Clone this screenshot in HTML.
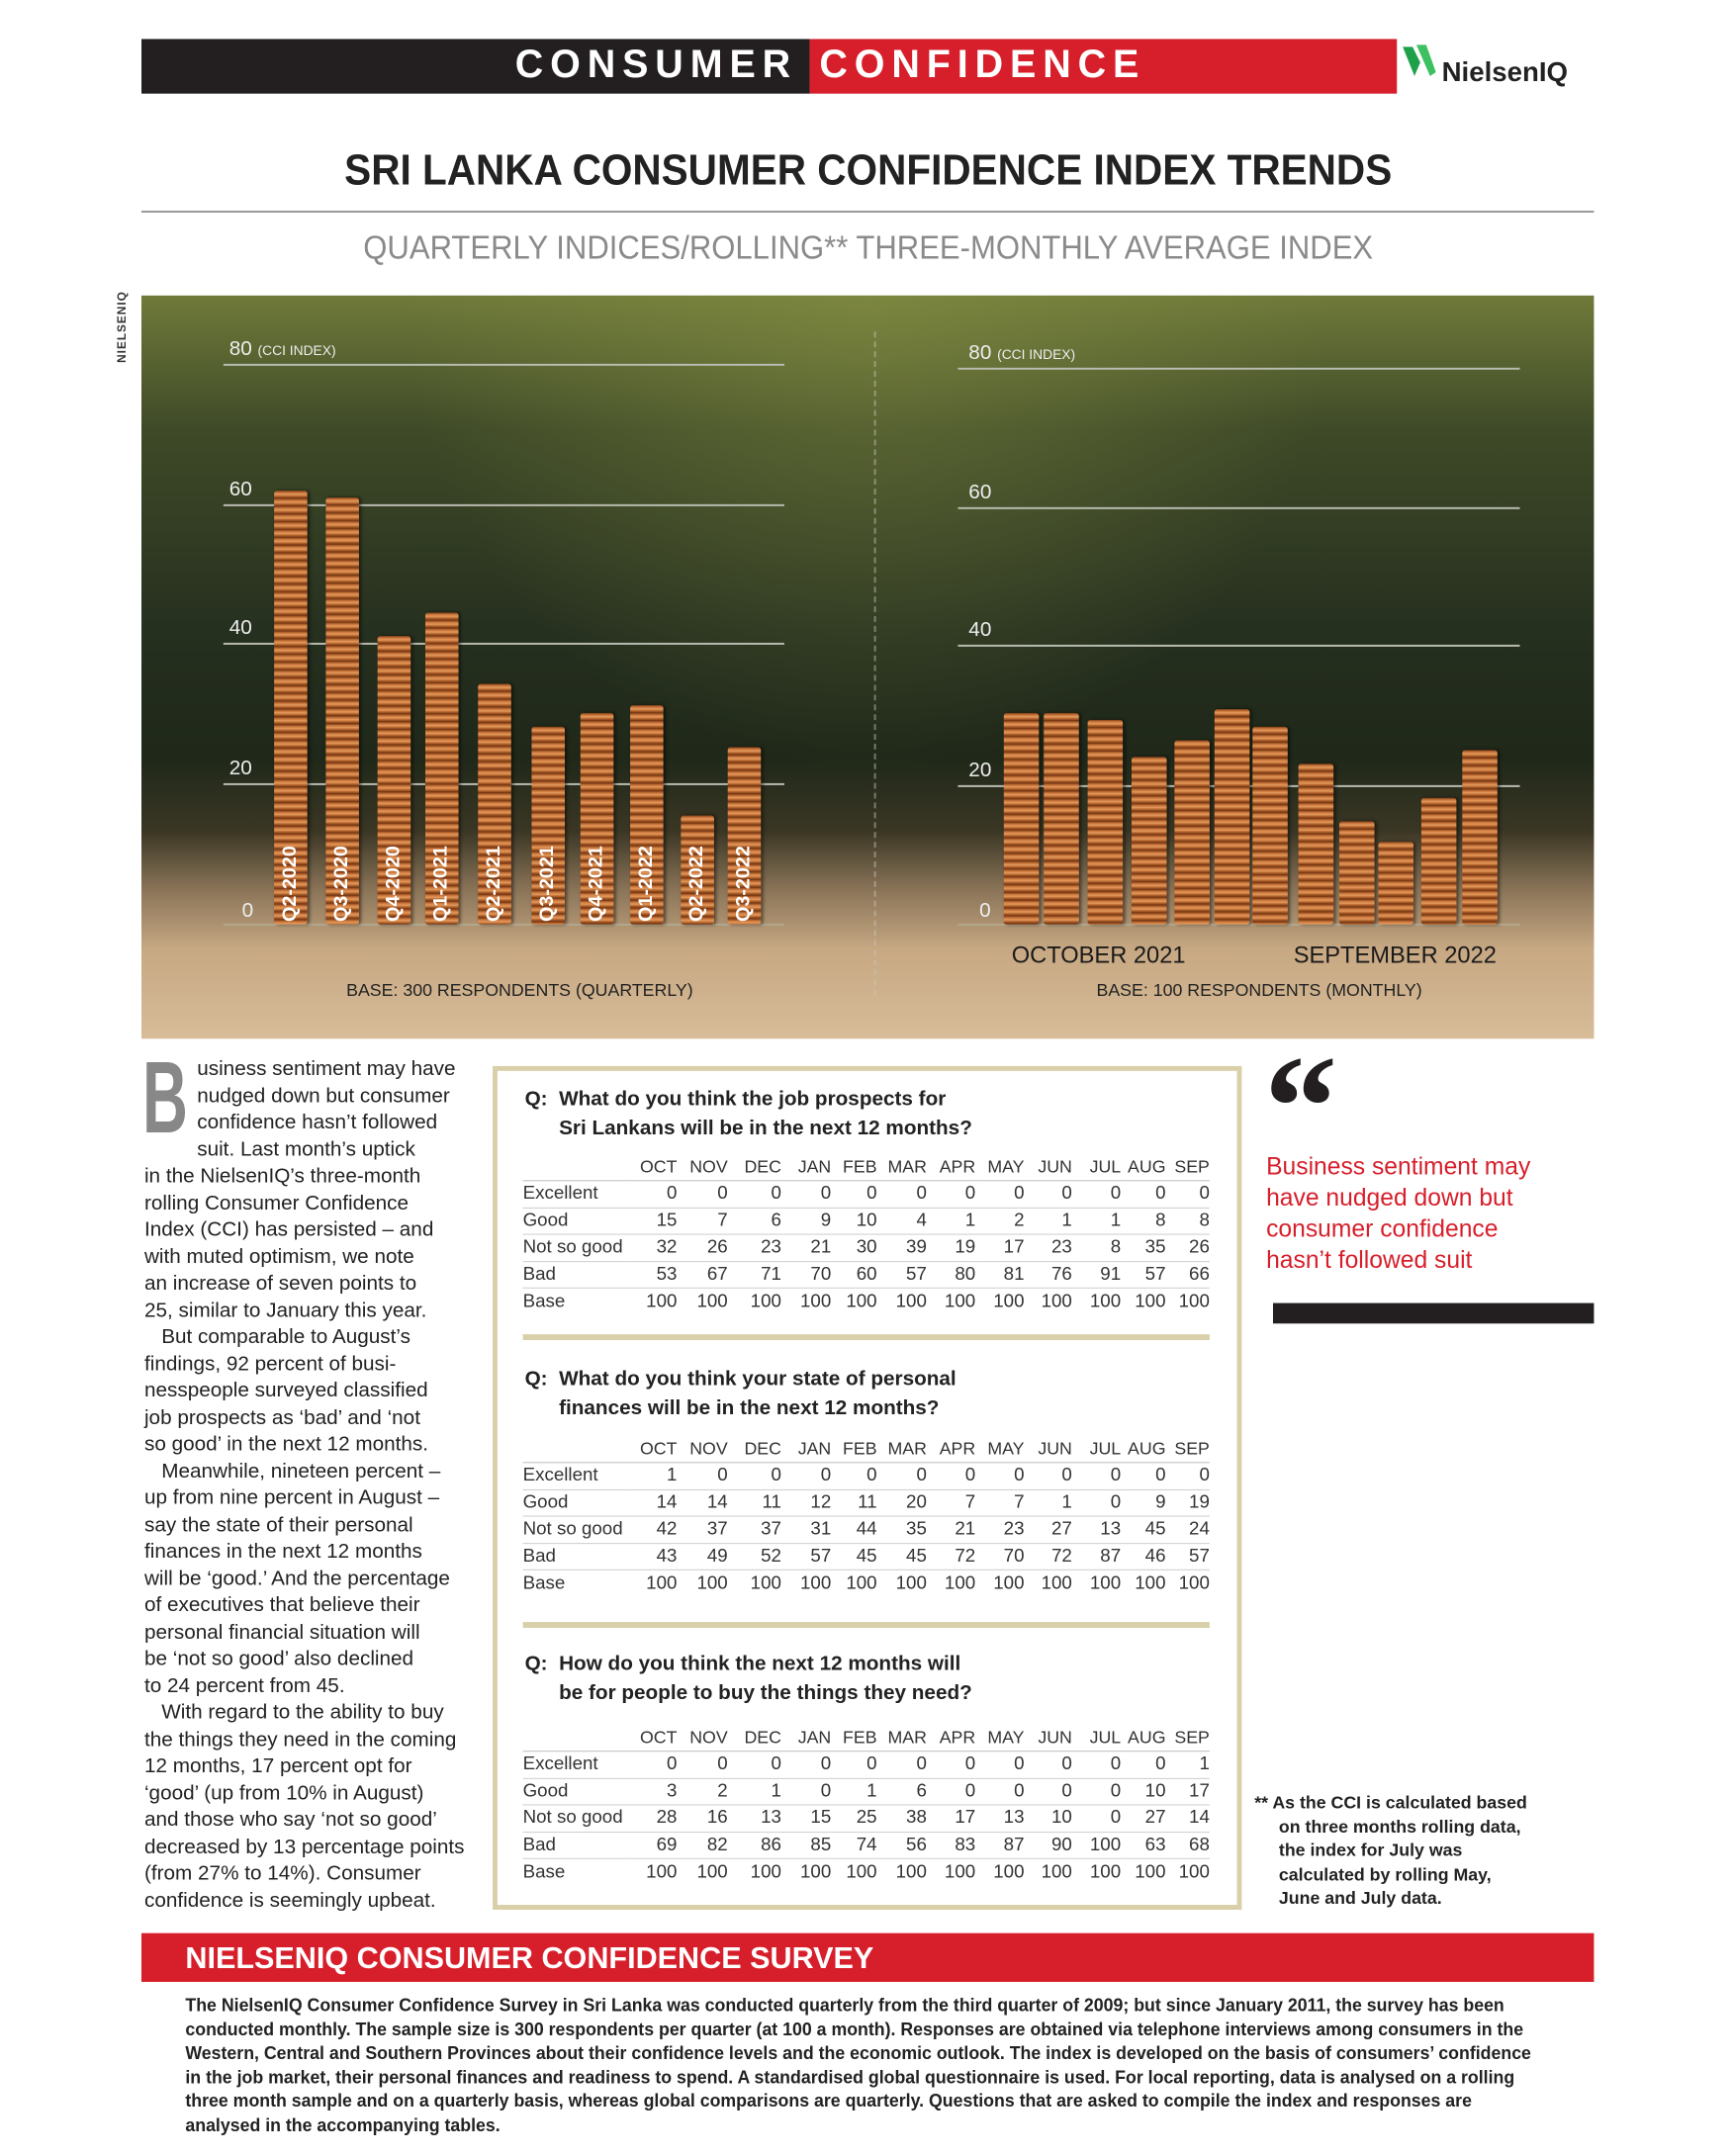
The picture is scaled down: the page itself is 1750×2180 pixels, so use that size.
<!DOCTYPE html>
<html><head><meta charset="utf-8"><style>
*{margin:0;padding:0;box-sizing:border-box}
body{width:1750px;height:2177px;background:#fff;position:relative;overflow:hidden;font-family:"Liberation Sans Narrow","Liberation Sans",sans-serif;color:#222}
#w{position:absolute;left:0;top:0;width:1750px;height:2210px;transform:scale(0.9862);transform-origin:0 0}
.a{position:absolute}
.nw{white-space:nowrap}
.bar{position:absolute;background:repeating-linear-gradient(180deg,#7a3a14 0,#c8743a 2px,#e49a5c 4px,#b0602a 6px,#6e3210 8px);border-radius:3px;box-shadow:2px 0 3px rgba(0,0,0,.5)}
.gl{position:absolute;height:2px;background:#b9bcb0}
.yl{position:absolute;color:#eee;font-size:21px}
.ql{position:absolute;color:#fff;font-family:"Liberation Sans",sans-serif;font-weight:bold;font-size:20px;transform:rotate(-90deg);transform-origin:left top;white-space:nowrap}
table{position:absolute;left:536px;border-collapse:collapse;table-layout:fixed;font-size:19px;color:#333}
td{height:27.5px;text-align:right;border-bottom:1px solid #ccc;padding:0}
td:first-child{text-align:left}
tr.h td{border-bottom:1px solid #bbb;font-size:18px}
tr:last-child td{border-bottom:none}
.q{position:absolute;left:538px;font-size:21px;font-weight:bold;color:#222;line-height:30px}
.sep{position:absolute;left:536px;width:704px;height:6px;background:#d9d0aa}
.lt{position:absolute;left:148px;top:1082px;font-size:21px;line-height:27.5px;color:#222}
</style></head><body><div id="w">
<div class="a" style="left:145px;top:40px;width:685px;height:56px;background:#231f20"></div>
<div class="a" style="left:830px;top:40px;width:602px;height:56px;background:#d71f2b"></div>
<div class="a nw" style="left:528px;top:44px;font:bold 40px 'Liberation Sans',sans-serif;letter-spacing:7px;color:#fff">CONSUMER</div>
<div class="a nw" style="left:840px;top:44px;font:bold 40px 'Liberation Sans',sans-serif;letter-spacing:7px;color:#fff">CONFIDENCE</div>
<svg class="a" style="left:1436px;top:44px" width="40" height="40"><path d="M2 4 L12 4 L20 20 L14 34 Z" fill="#1fa04a"/><path d="M16 2 L26 2 L36 30 L30 34 Z" fill="#3cc060"/></svg>
<div class="a nw" style="left:1478px;top:58px;font:bold 28px 'Liberation Sans',sans-serif;color:#222">NielsenIQ</div>

<div class="a nw" style="left:0;width:1780px;text-align:center;top:150px;font-size:44px;font-weight:bold;color:#222;transform:scaleX(0.934)">SRI LANKA CONSUMER CONFIDENCE INDEX TRENDS</div>
<div class="a" style="left:145px;top:216px;width:1489px;height:2px;background:#999"></div>
<div class="a nw" style="left:0;width:1780px;text-align:center;top:235px;font-size:34px;color:#8a8a8a;transform:scaleX(0.926)">QUARTERLY INDICES/ROLLING** THREE-MONTHLY AVERAGE INDEX</div>
<div class="a nw" style="left:118px;top:372px;font:bold 12px 'Liberation Sans',sans-serif;color:#333;transform:rotate(-90deg);transform-origin:left top;letter-spacing:1px">NIELSENIQ</div>

<div class="a" style="left:145px;top:303px;width:1489px;height:762px;background:linear-gradient(180deg,#6f7a3a 0%,#3f4a28 18%,#26301f 45%,#1f2819 62%,#3a3624 72%,#8a7458 80%,#c7a883 88%,#d7bc98 100%)"></div>
<div class="a" style="left:145px;top:303px;width:1489px;height:762px;background:radial-gradient(ellipse at 50% 0%,rgba(140,150,70,.45),rgba(0,0,0,0) 45%)"></div>

<div class="gl" style="left:229px;top:373px;width:575px"></div>
<div class="gl" style="left:229px;top:517px;width:575px"></div>
<div class="gl" style="left:229px;top:659px;width:575px"></div>
<div class="gl" style="left:229px;top:803px;width:575px"></div>
<div class="gl" style="left:229px;top:947px;width:575px;opacity:.5"></div>
<div class="yl" style="left:235px;top:346px">80 <span style="font-size:14px">(CCI INDEX)</span></div>
<div class="yl" style="left:235px;top:490px">60</div>
<div class="yl" style="left:235px;top:632px">40</div>
<div class="yl" style="left:235px;top:776px">20</div>
<div class="yl" style="left:248px;top:922px">0</div>

<div class="gl" style="left:982px;top:377px;width:576px"></div>
<div class="gl" style="left:982px;top:520px;width:576px"></div>
<div class="gl" style="left:982px;top:661px;width:576px"></div>
<div class="gl" style="left:982px;top:805px;width:576px"></div>
<div class="gl" style="left:982px;top:947px;width:576px;opacity:.5"></div>
<div class="yl" style="left:993px;top:350px">80 <span style="font-size:14px">(CCI INDEX)</span></div>
<div class="yl" style="left:993px;top:493px">60</div>
<div class="yl" style="left:993px;top:634px">40</div>
<div class="yl" style="left:993px;top:778px">20</div>
<div class="yl" style="left:1004px;top:922px">0</div>
<div class="a" style="left:896px;top:340px;height:680px;border-left:2px dashed rgba(200,200,190,.5)"></div>

<div class="bar" style="left:281px;top:503px;width:34px;height:445px"></div>
<div class="bar" style="left:334px;top:510px;width:34px;height:438px"></div>
<div class="bar" style="left:387px;top:652px;width:34px;height:296px"></div>
<div class="bar" style="left:436px;top:628px;width:34px;height:320px"></div>
<div class="bar" style="left:490px;top:701px;width:34px;height:247px"></div>
<div class="bar" style="left:545px;top:745px;width:34px;height:203px"></div>
<div class="bar" style="left:595px;top:731px;width:34px;height:217px"></div>
<div class="bar" style="left:646px;top:723px;width:34px;height:225px"></div>
<div class="bar" style="left:698px;top:836px;width:34px;height:112px"></div>
<div class="bar" style="left:746px;top:766px;width:34px;height:182px"></div>
<div class="ql" style="left:286px;top:945px">Q2-2020</div>
<div class="ql" style="left:339px;top:945px">Q3-2020</div>
<div class="ql" style="left:392px;top:945px">Q4-2020</div>
<div class="ql" style="left:441px;top:945px">Q1-2021</div>
<div class="ql" style="left:495px;top:945px">Q2-2021</div>
<div class="ql" style="left:550px;top:945px">Q3-2021</div>
<div class="ql" style="left:600px;top:945px">Q4-2021</div>
<div class="ql" style="left:651px;top:945px">Q1-2022</div>
<div class="ql" style="left:703px;top:945px">Q2-2022</div>
<div class="ql" style="left:751px;top:945px">Q3-2022</div>

<div class="bar" style="left:1029px;top:731px;width:36px;height:217px"></div>
<div class="bar" style="left:1070px;top:731px;width:36px;height:217px"></div>
<div class="bar" style="left:1115px;top:738px;width:36px;height:210px"></div>
<div class="bar" style="left:1160px;top:776px;width:36px;height:172px"></div>
<div class="bar" style="left:1204px;top:759px;width:36px;height:189px"></div>
<div class="bar" style="left:1245px;top:727px;width:36px;height:221px"></div>
<div class="bar" style="left:1284px;top:745px;width:36px;height:203px"></div>
<div class="bar" style="left:1331px;top:783px;width:36px;height:165px"></div>
<div class="bar" style="left:1373px;top:842px;width:36px;height:106px"></div>
<div class="bar" style="left:1413px;top:863px;width:36px;height:85px"></div>
<div class="bar" style="left:1457px;top:818px;width:36px;height:130px"></div>
<div class="bar" style="left:1499px;top:769px;width:36px;height:179px"></div>

<div class="a nw" style="left:1037px;top:966px;font:24px 'Liberation Sans',sans-serif;color:#1a1a1a">OCTOBER 2021</div>
<div class="a nw" style="left:1326px;top:966px;font:24px 'Liberation Sans',sans-serif;color:#1a1a1a">SEPTEMBER 2022</div>
<div class="a nw" style="left:355px;top:1005px;font-size:18px;color:#222">BASE: 300 RESPONDENTS (QUARTERLY)</div>
<div class="a nw" style="left:1124px;top:1005px;font-size:18px;color:#222">BASE: 100 RESPONDENTS (MONTHLY)</div>

<div class="a" style="left:146px;top:1074px;font:bold 104px 'Liberation Sans',sans-serif;color:#888;line-height:104px;transform:scaleX(0.62);transform-origin:left top">B</div>
<div class="lt nw">
<div style="padding-left:54px">usiness sentiment may have</div>
<div style="padding-left:54px">nudged down but consumer</div>
<div style="padding-left:54px">confidence hasn’t followed</div>
<div style="padding-left:54px">suit. Last month’s uptick</div>
<div>in the NielsenIQ’s three-month</div>
<div>rolling Consumer Confidence</div>
<div>Index (CCI) has persisted – and</div>
<div>with muted optimism, we note</div>
<div>an increase of seven points to</div>
<div>25, similar to January this year.</div>
<div>&nbsp;&nbsp;&nbsp;But comparable to August’s</div>
<div>findings, 92 percent of busi-</div>
<div>nesspeople surveyed classified</div>
<div>job prospects as ‘bad’ and ‘not</div>
<div>so good’ in the next 12 months.</div>
<div>&nbsp;&nbsp;&nbsp;Meanwhile, nineteen percent –</div>
<div>up from nine percent in August –</div>
<div>say the state of their personal</div>
<div>finances in the next 12 months</div>
<div>will be ‘good.’ And the percentage</div>
<div>of executives that believe their</div>
<div>personal financial situation will</div>
<div>be ‘not so good’ also declined</div>
<div>to 24 percent from 45.</div>
<div>&nbsp;&nbsp;&nbsp;With regard to the ability to buy</div>
<div>the things they need in the coming</div>
<div>12 months, 17 percent opt for</div>
<div>‘good’ (up from 10% in August)</div>
<div>and those who say ‘not so good’</div>
<div>decreased by 13 percentage points</div>
<div>(from 27% to 14%). Consumer</div>
<div>confidence is seemingly upbeat.</div>
</div>

<div class="a" style="left:505px;top:1093px;width:768px;height:865px;border:5px solid #d9d0aa"></div>
<div class="q nw" style="top:1112px">Q:&nbsp; What do you think the job prospects for<br>&nbsp;&nbsp;&nbsp;&nbsp;&nbsp;&nbsp;Sri Lankans will be in the next 12 months?</div>
<table style="top:1183px;width:704px"><colgroup><col style="width:110px"><col style="width:48px"><col style="width:52px"><col style="width:55px"><col style="width:51px"><col style="width:47px"><col style="width:51px"><col style="width:50px"><col style="width:50px"><col style="width:49px"><col style="width:50px"><col style="width:46px"><col style="width:45px"></colgroup>
<tr class="h"><td></td><td>OCT</td><td>NOV</td><td>DEC</td><td>JAN</td><td>FEB</td><td>MAR</td><td>APR</td><td>MAY</td><td>JUN</td><td>JUL</td><td>AUG</td><td>SEP</td></tr>
<tr><td>Excellent</td><td>0</td><td>0</td><td>0</td><td>0</td><td>0</td><td>0</td><td>0</td><td>0</td><td>0</td><td>0</td><td>0</td><td>0</td></tr>
<tr><td>Good</td><td>15</td><td>7</td><td>6</td><td>9</td><td>10</td><td>4</td><td>1</td><td>2</td><td>1</td><td>1</td><td>8</td><td>8</td></tr>
<tr><td>Not so good</td><td>32</td><td>26</td><td>23</td><td>21</td><td>30</td><td>39</td><td>19</td><td>17</td><td>23</td><td>8</td><td>35</td><td>26</td></tr>
<tr><td>Bad</td><td>53</td><td>67</td><td>71</td><td>70</td><td>60</td><td>57</td><td>80</td><td>81</td><td>76</td><td>91</td><td>57</td><td>66</td></tr>
<tr><td>Base</td><td>100</td><td>100</td><td>100</td><td>100</td><td>100</td><td>100</td><td>100</td><td>100</td><td>100</td><td>100</td><td>100</td><td>100</td></tr>
</table>
<div class="sep" style="top:1368px"></div>

<div class="q nw" style="top:1399px">Q:&nbsp; What do you think your state of personal<br>&nbsp;&nbsp;&nbsp;&nbsp;&nbsp;&nbsp;finances will be in the next 12 months?</div>
<table style="top:1472px;width:704px"><colgroup><col style="width:110px"><col style="width:48px"><col style="width:52px"><col style="width:55px"><col style="width:51px"><col style="width:47px"><col style="width:51px"><col style="width:50px"><col style="width:50px"><col style="width:49px"><col style="width:50px"><col style="width:46px"><col style="width:45px"></colgroup>
<tr class="h"><td></td><td>OCT</td><td>NOV</td><td>DEC</td><td>JAN</td><td>FEB</td><td>MAR</td><td>APR</td><td>MAY</td><td>JUN</td><td>JUL</td><td>AUG</td><td>SEP</td></tr>
<tr><td>Excellent</td><td>1</td><td>0</td><td>0</td><td>0</td><td>0</td><td>0</td><td>0</td><td>0</td><td>0</td><td>0</td><td>0</td><td>0</td></tr>
<tr><td>Good</td><td>14</td><td>14</td><td>11</td><td>12</td><td>11</td><td>20</td><td>7</td><td>7</td><td>1</td><td>0</td><td>9</td><td>19</td></tr>
<tr><td>Not so good</td><td>42</td><td>37</td><td>37</td><td>31</td><td>44</td><td>35</td><td>21</td><td>23</td><td>27</td><td>13</td><td>45</td><td>24</td></tr>
<tr><td>Bad</td><td>43</td><td>49</td><td>52</td><td>57</td><td>45</td><td>45</td><td>72</td><td>70</td><td>72</td><td>87</td><td>46</td><td>57</td></tr>
<tr><td>Base</td><td>100</td><td>100</td><td>100</td><td>100</td><td>100</td><td>100</td><td>100</td><td>100</td><td>100</td><td>100</td><td>100</td><td>100</td></tr>
</table>
<div class="sep" style="top:1663px"></div>

<div class="q nw" style="top:1691px">Q:&nbsp; How do you think the next 12 months will<br>&nbsp;&nbsp;&nbsp;&nbsp;&nbsp;&nbsp;be for people to buy the things they need?</div>
<table style="top:1768px;width:704px"><colgroup><col style="width:110px"><col style="width:48px"><col style="width:52px"><col style="width:55px"><col style="width:51px"><col style="width:47px"><col style="width:51px"><col style="width:50px"><col style="width:50px"><col style="width:49px"><col style="width:50px"><col style="width:46px"><col style="width:45px"></colgroup>
<tr class="h"><td></td><td>OCT</td><td>NOV</td><td>DEC</td><td>JAN</td><td>FEB</td><td>MAR</td><td>APR</td><td>MAY</td><td>JUN</td><td>JUL</td><td>AUG</td><td>SEP</td></tr>
<tr><td>Excellent</td><td>0</td><td>0</td><td>0</td><td>0</td><td>0</td><td>0</td><td>0</td><td>0</td><td>0</td><td>0</td><td>0</td><td>1</td></tr>
<tr><td>Good</td><td>3</td><td>2</td><td>1</td><td>0</td><td>1</td><td>6</td><td>0</td><td>0</td><td>0</td><td>0</td><td>10</td><td>17</td></tr>
<tr><td>Not so good</td><td>28</td><td>16</td><td>13</td><td>15</td><td>25</td><td>38</td><td>17</td><td>13</td><td>10</td><td>0</td><td>27</td><td>14</td></tr>
<tr><td>Bad</td><td>69</td><td>82</td><td>86</td><td>85</td><td>74</td><td>56</td><td>83</td><td>87</td><td>90</td><td>100</td><td>63</td><td>68</td></tr>
<tr><td>Base</td><td>100</td><td>100</td><td>100</td><td>100</td><td>100</td><td>100</td><td>100</td><td>100</td><td>100</td><td>100</td><td>100</td><td>100</td></tr>
</table>

<div class="a" style="left:1296px;top:1060px;font:bold 150px 'Liberation Serif',serif;color:#231f20;line-height:150px">“</div>
<div class="a nw" style="left:1298px;top:1180px;font-size:25px;line-height:32px;color:#d71f2b">Business sentiment may<br>have nudged down but<br>consumer confidence<br>hasn’t followed suit</div>
<div class="a" style="left:1305px;top:1336px;width:329px;height:21px;background:#231f20"></div>
<div class="a nw" style="left:1286px;top:1836px;font-size:18px;font-weight:bold;line-height:24.5px;color:#222">** As the CCI is calculated based<br>&nbsp;&nbsp;&nbsp;&nbsp;&nbsp;on three months rolling data,<br>&nbsp;&nbsp;&nbsp;&nbsp;&nbsp;the index for July was<br>&nbsp;&nbsp;&nbsp;&nbsp;&nbsp;calculated by rolling May,<br>&nbsp;&nbsp;&nbsp;&nbsp;&nbsp;June and July data.</div>

<div class="a" style="left:145px;top:1982px;width:1489px;height:50px;background:#d71f2b"></div>
<div class="a nw" style="left:190px;top:1990px;font-size:31px;font-weight:bold;color:#fff">NIELSENIQ CONSUMER CONFIDENCE SURVEY</div>
<div class="a nw" style="left:190px;top:2044px;font-size:18.5px;font-weight:bold;line-height:24.6px;color:#222;transform:scaleX(0.972);transform-origin:left top">
The NielsenIQ Consumer Confidence Survey in Sri Lanka was conducted quarterly from the third quarter of 2009; but since January 2011, the survey has been<br>
conducted monthly. The sample size is 300 respondents per quarter (at 100 a month). Responses are obtained via telephone interviews among consumers in the<br>
Western, Central and Southern Provinces about their confidence levels and the economic outlook. The index is developed on the basis of consumers’ confidence<br>
in the job market, their personal finances and readiness to spend. A standardised global questionnaire is used. For local reporting, data is analysed on a rolling<br>
three month sample and on a quarterly basis, whereas global comparisons are quarterly. Questions that are asked to compile the index and responses are<br>
analysed in the accompanying tables.</div>
</div></body></html>
